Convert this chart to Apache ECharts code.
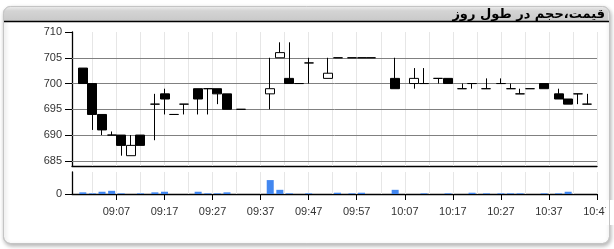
<!DOCTYPE html>
<html><head><meta charset="utf-8">
<script src="https://cdn.jsdelivr.net/npm/echarts@6/dist/echarts.min.js"></script>
<style>html,body{margin:0;padding:0;background:#fff}#c{width:614px;height:249px}</style>
</head><body><div id="c"></div>
<script>
const titleText = 'قیمت،حجم در طول روز';
const times  = ['09:00','09:02','09:04','09:06','09:08','09:10','09:12','09:15','09:17','09:19','09:21','09:24','09:26','09:28','09:30','09:33','09:39','09:41','09:43','09:45','09:47','09:51','09:53','09:56','09:58','10:00','10:05','10:09','10:11','10:14','10:16','10:19','10:21','10:24','10:27','10:29','10:31','10:33','10:36','10:39','10:41','10:43','10:45'];
const opens  = [703,700,694,690,690,686,690,696,698,694,696,699,699,699,698,695,698,705,701,700,704,701,705,705,705,705,701,700,700,701,701,699,700,699,700,699,698,699,700,698,697,698,696];
const closes = [700,694,691,690,688,688,688,696,697,694,696,697,699,698,695,695,699,706,700,700,704,702,705,705,705,705,699,701,700,701,700,699,700,699,700,699,698,699,699,697,696,698,696];
const lows   = [700,691,690,690,686,686,688,689,694,694,694,694,694,696,695,695,695,705,700,700,700,701,705,705,705,705,699,699,700,700,700,699,699,699,700,699,698,699,699,697,696,696,696];
const highs  = [703,700,694,690.7,690,690,690,698,699,694,696,699,699,699,698,695,705,708,708,700,705,705,705,705,705,705,705,703,703,701,701,700,700,701,701,700,699,699,700,699,697,698,698];
const volumes = [3000,1200,4100,5800,1200,0,1200,3000,4100,0,0,4100,1200,1200,3000,0,25300,7600,1200,0,1200,0,2300,1200,2300,0,7600,0,1200,0,1200,0,2300,1200,1200,1200,1200,0,1200,1200,4100,0,0];
const xTickLabels = ['09:07','09:17','09:27','09:37','09:47','09:57','10:07','10:17','10:27','10:37','10:47'];
const xGridTimes = ['09:02','09:07','09:12','09:17','09:22','09:27','09:32','09:37','09:42','09:47','09:52','09:57','10:02','10:07','10:12','10:17','10:22','10:27','10:32','10:37','10:42','10:47'];
const priceTicks = [685,690,695,700,705,710];
const priceGridValues = [685,690,695,700,705];
const volumeTicks = [0];

function toMin(s){const p=s.split(':').map(Number);return p[0]*60+p[1];}
function fmt(v){const h=Math.floor(v/60), m=Math.round(v-h*60);return String(h).padStart(2,'0')+':'+String(m).padStart(2,'0');}

const candleData = times.map((t,i)=>[toMin(t),opens[i],closes[i],lows[i],highs[i]]);
const volData = times.map((t,i)=>[toMin(t),volumes[i]]);
const vLines = xGridTimes.map(t=>({xAxis:toMin(t),lineStyle:{color:'#e6e6e6',width:1,type:'solid'}}));
const hLines = priceGridValues.map(v=>({yAxis:v,lineStyle:{color:'#808080',width:1,type:'solid'}}));

const chart = echarts.init(document.getElementById('c'),null,{renderer:'canvas'});
const axisFont = {fontSize:11,color:'#333',fontFamily:'Liberation Sans, Arial, sans-serif'};
const blackLine = {lineStyle:{color:'#000',width:1.3}};
chart.setOption({
  animation:false,
  graphic:{elements:[
    {type:'rect',z:-10,shape:{x:3.5,y:6.5,width:606,height:237,r:7},style:{fill:'#fff',stroke:'#c4c4c4',lineWidth:1,shadowBlur:4,shadowOffsetX:1,shadowOffsetY:2,shadowColor:'rgba(0,0,0,0.3)'}},
    {type:'rect',z:-9,shape:{x:3.5,y:6.5,width:605,height:14.5,r:[7,7,0,0]},style:{fill:new echarts.graphic.LinearGradient(0,0,0,1,[{offset:0,color:'#ececec'},{offset:0.3,color:'#d4d4d4'},{offset:1,color:'#c9c9c9'}])}},
    {type:'line',z:-8,shape:{x1:3.5,y1:21.5,x2:609.5,y2:21.5},style:{stroke:'#000',lineWidth:1.3}},
    {type:'text',z:-7,x:605,y:15,style:{text:titleText,font:'bold 13px "DejaVu Sans"',fill:'#000',align:'right',verticalAlign:'middle'}},
    {type:'rect',z:90,shape:{x:606,y:200,width:8,height:25},style:{fill:'#fff'}},
    {type:'rect',z:100,shape:{x:3.5,y:6.5,width:606,height:237,r:7},style:{fill:'none',stroke:'#c4c4c4',lineWidth:1}}
  ]},
  grid:[{left:72,width:525,top:32,height:134},{left:72,width:525,top:172,height:22}],
  xAxis:[
    {type:'value',gridIndex:0,min:537.75,max:647,axisLine:blackLine,axisTick:{show:false},axisLabel:{show:false},splitLine:{show:false}},
    {type:'value',gridIndex:1,min:537.75,max:647,axisLine:blackLine,
     axisTick:{show:true,customValues:xTickLabels.map(toMin),length:6,lineStyle:{color:'#000'}},
     axisLabel:Object.assign({customValues:xTickLabels.map(toMin),formatter:fmt,margin:12,showMaxLabel:true,showMinLabel:true},axisFont),
     splitLine:{show:false}}
  ],
  yAxis:[
    {type:'value',gridIndex:0,min:684,max:710,axisLine:Object.assign({show:true},blackLine),
     axisTick:{show:true,customValues:priceTicks,length:7,lineStyle:{color:'#000'}},
     axisLabel:Object.assign({customValues:priceTicks,margin:10},axisFont),splitLine:{show:false}},
    {type:'value',gridIndex:1,min:0,max:40000,axisLine:Object.assign({show:true},blackLine),
     axisTick:{show:true,customValues:volumeTicks,length:7,lineStyle:{color:'#000'}},
     axisLabel:Object.assign({customValues:volumeTicks,margin:10},axisFont),splitLine:{show:false}}
  ],
  series:[
    {type:'candlestick',xAxisIndex:0,yAxisIndex:0,z:3,barWidth:9.5,
     dimensions:['time','open','close','lowest','highest'],
     encode:{x:'time',y:['open','close','lowest','highest']},
     data:candleData,
     itemStyle:{color:'#fff',color0:'#000',borderColor:'#000',borderColor0:'#000',borderWidth:1},
     markLine:{z:1,silent:true,symbol:'none',label:{show:false},animation:false,data:vLines.concat(hLines)}},
    {type:'bar',xAxisIndex:1,yAxisIndex:1,z:3,barWidth:7,data:volData,itemStyle:{color:'#4287f0'},
     markLine:{z:1,silent:true,symbol:'none',label:{show:false},animation:false,data:vLines}}
  ]
});
</script></body></html>
